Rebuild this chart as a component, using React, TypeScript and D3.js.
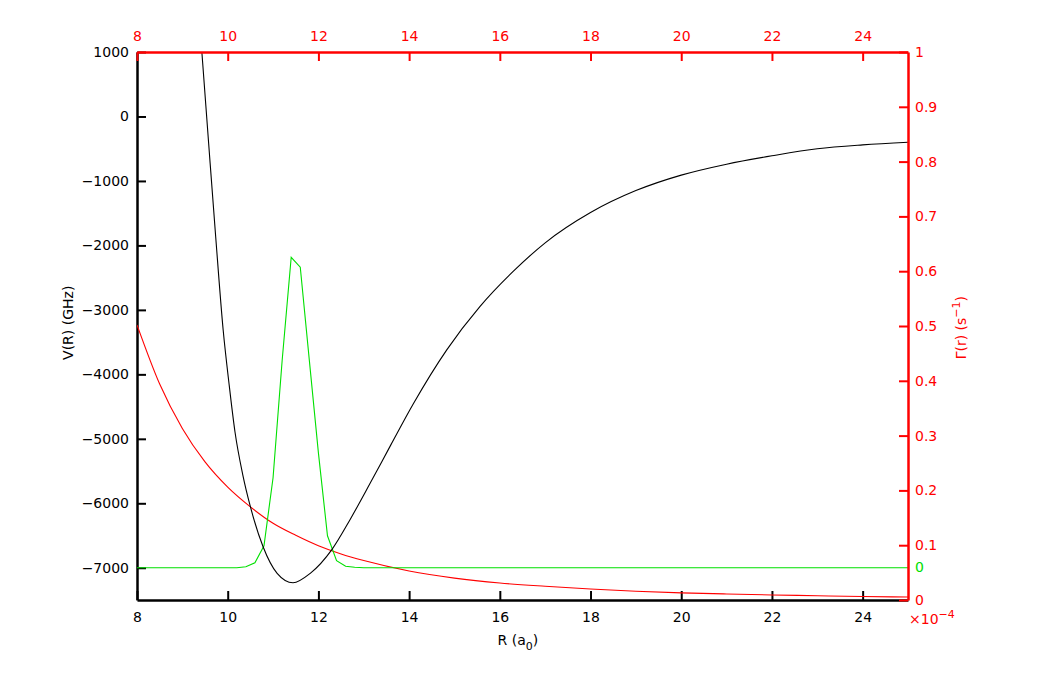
import React, { useEffect, useRef } from 'react';
import * as d3 from 'd3';

// potential curve V(R), GHz
const potR = [9.43, 9.58, 9.735, 9.9, 10.03, 10.16, 10.33, 10.5, 10.78, 11.09, 11.44, 11.82, 12.3, 12.7, 13.14, 13.6, 14.09, 14.83, 15.56, 16.3, 17, 18, 19, 20, 21, 22, 23, 24, 25];
const potV = [1000, -420, -1865, -3312, -4150, -4890, -5550, -6052, -6673, -7086, -7232, -7086, -6714, -6250, -5690, -5090, -4460, -3620, -2950, -2400, -1960, -1490, -1150, -910, -740, -610, -500, -440, -400];

// decay rate Gamma(r), units of 1e-4 s^-1
const gamR = [8, 8.5, 9, 9.5, 10, 10.5, 11, 11.5, 12, 12.5, 13, 14, 15, 16, 17, 18, 19, 20, 21, 22, 23, 24, 25];
const gamV = [0.502, 0.394, 0.313, 0.252, 0.206, 0.17, 0.14, 0.118, 0.099, 0.084, 0.072, 0.053, 0.04, 0.031, 0.025, 0.02, 0.016, 0.013, 0.011, 0.0092, 0.0078, 0.0063, 0.0054];

// vibrational wavefunction |psi|^2 (normalised), drawn on the level at -7000 GHz
const psiR = [8, 10.2, 10.4, 10.6, 10.8, 11.0, 11.2, 11.4, 11.6, 11.8, 12.0, 12.2, 12.4, 12.6, 12.8, 13, 25];
const psiV = [0, 0, 0.003, 0.016, 0.071, 0.29, 0.667, 1.0, 0.968, 0.668, 0.37, 0.103, 0.023, 0.005, 0.0016, 0, 0];
const psiLevel = -7000;
const psiPeak = -2184;

const xTicks = [8, 10, 12, 14, 16, 18, 20, 22, 24];
const leftTicks = [1000, 0, -1000, -2000, -3000, -4000, -5000, -6000, -7000];
const rightTicks = [0, 0.1, 0.2, 0.3, 0.4, 0.5, 0.6, 0.7, 0.8, 0.9, 1];

const RED = '#ff0000';
const GREEN = '#00e000';
const FONT = 'DejaVu Sans, sans-serif';

const App = () => {
    const svgRef = useRef(null);

    useEffect(() => {
        const margin = { top: 52, right: 149, bottom: 75, left: 137 };
        const W = 1057, H = 675;
        const width = W - margin.left - margin.right;
        const height = H - margin.top - margin.bottom;

        const x = d3.scaleLinear().domain([8, 25]).range([0, width]);
        const yL = d3.scaleLinear().domain([-7500, 1000]).range([height, 0]);
        const yR = d3.scaleLinear().domain([0, 1]).range([height, 0]);
        const yPsi = d3.scaleLinear().domain([0, 1]).range([yL(psiLevel), yL(psiPeak)]);

        const svg = d3.select(svgRef.current);
        svg.selectAll('*').remove();
        svg.attr('width', W).attr('height', H);

        const g = svg.append('g').attr('transform', `translate(${margin.left},${margin.top})`);

        g.append('clipPath').attr('id', 'plotclip')
            .append('rect').attr('width', width).attr('height', height);

        const minus = (d) => String(d).replace('-', '\u2212');

        // bottom axis (black)
        const bottom = g.append('g')
            .attr('transform', `translate(0,${height})`)
            .call(d3.axisBottom(x).tickValues(xTicks).tickSizeInner(-9).tickSizeOuter(0).tickPadding(12));
        // left axis (black)
        const left = g.append('g')
            .call(d3.axisLeft(yL).tickValues(leftTicks).tickFormat(minus).tickSizeInner(-9).tickSizeOuter(0).tickPadding(8));
        [bottom, left].forEach((a) => {
            a.select('.domain').attr('stroke', '#000').attr('stroke-width', 2.5);
            a.selectAll('line').attr('stroke', '#000').attr('stroke-width', 2);
            a.selectAll('text').attr('fill', '#000').style('font-family', FONT).style('font-size', '14px');
        });

        // curves
        const plot = g.append('g').attr('clip-path', 'url(#plotclip)');

        const gamLine = d3.line().x((d) => x(d[0])).y((d) => yR(d[1])).curve(d3.curveMonotoneX);
        plot.append('path')
            .datum(gamR.map((r, i) => [r, gamV[i]]))
            .attr('fill', 'none').attr('stroke', RED).attr('stroke-width', 1.1)
            .attr('d', gamLine);

        const psiLine = d3.line().x((d) => x(d[0])).y((d) => yPsi(d[1]));
        plot.append('path')
            .datum(psiR.map((r, i) => [r, psiV[i]]))
            .attr('fill', 'none').attr('stroke', GREEN).attr('stroke-width', 1.1)
            .attr('d', psiLine);

        const potLine = d3.line().x((d) => x(d[0])).y((d) => yL(d[1])).curve(d3.curveMonotoneX);
        plot.append('path')
            .datum(potR.map((r, i) => [r, potV[i]]))
            .attr('fill', 'none').attr('stroke', '#000').attr('stroke-width', 1.1)
            .attr('d', potLine);

        // top axis (red)
        const top = g.append('g')
            .call(d3.axisTop(x).tickValues(xTicks).tickSizeInner(-9).tickSizeOuter(0).tickPadding(11));
        // right axis (red)
        const right = g.append('g')
            .attr('transform', `translate(${width},0)`)
            .call(d3.axisRight(yR).tickValues(rightTicks).tickFormat(d3.format('~g')).tickSizeInner(-9).tickSizeOuter(0).tickPadding(7));
        [top, right].forEach((a) => {
            a.select('.domain').attr('stroke', RED).attr('stroke-width', 2.5);
            a.selectAll('line').attr('stroke', RED).attr('stroke-width', 2);
            a.selectAll('text').attr('fill', RED).style('font-family', FONT).style('font-size', '14px');
        });

        // green zero label for the wavefunction baseline
        g.append('text')
            .attr('x', width + 7).attr('y', yPsi(0)).attr('dy', '0.32em')
            .attr('fill', GREEN).style('font-family', FONT).style('font-size', '14px')
            .text('0');

        // x10^-4 multiplier
        const mult = g.append('text')
            .attr('x', width + 1).attr('y', height + 24)
            .attr('fill', RED).style('font-family', FONT).style('font-size', '14px');
        mult.append('tspan').text('\u00d710');
        mult.append('tspan').attr('dy', -6).style('font-size', '11px').text('\u22124');

        // axis labels
        const xl = g.append('text')
            .attr('x', x(16.4)).attr('y', height + 45)
            .attr('text-anchor', 'middle')
            .style('font-family', FONT).style('font-size', '14px');
        xl.append('tspan').text('R (a');
        xl.append('tspan').attr('dy', 5).style('font-size', '11px').text('0');
        xl.append('tspan').attr('dy', -5).text(')');

        g.append('text')
            .attr('transform', `translate(${-64},${yL(-3200)}) rotate(-90)`)
            .attr('text-anchor', 'middle')
            .style('font-family', FONT).style('font-size', '14px')
            .text('V(R) (GHz)');

        const rl = g.append('text')
            .attr('transform', `translate(${width + 58},${yR(0.497)}) rotate(-90)`)
            .attr('text-anchor', 'middle')
            .attr('fill', RED)
            .style('font-family', FONT).style('font-size', '14px');
        rl.append('tspan').text('\u0393(r) (s');
        rl.append('tspan').attr('dy', -6).style('font-size', '11px').text('\u22121');
        rl.append('tspan').attr('dy', 6).text(')');
    }, []);

    return (
        <svg ref={svgRef} style={{ position: 'absolute', left: 0, top: 0, background: '#fff' }}></svg>
    );
};

export default App;
